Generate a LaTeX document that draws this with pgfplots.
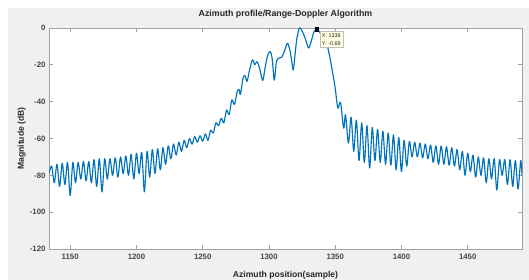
\documentclass[border=0pt]{standalone}
\usepackage{pgfplots}
\pgfplotsset{compat=1.18}
\usepackage{fontspec}
\setmainfont{Liberation Sans}
\definecolor{figgrey}{HTML}{F0F0F0}
\definecolor{axgrey}{HTML}{A0A0A0}
\definecolor{txt}{HTML}{262626}
\definecolor{mblue}{HTML}{0072BD}
\definecolor{tipfill}{HTML}{FFFFE1}
\pgfplotstableread{
x y
1134 -79
1136 -75
1138 -84
1140 -74
1142 -86
1144 -73.5
1146 -85
1148 -73
1150 -91
1152 -73
1154 -84
1156 -73
1158 -82
1160 -72.5
1162 -83
1164 -72.5
1166 -84
1168 -71.5
1170 -86
1172 -71
1174 -89
1176 -71
1178 -82
1180 -71
1182 -80
1184 -70.5
1186 -81
1188 -70
1190 -79
1192 -69.5
1194 -80
1196 -68.5
1198 -82
1200 -68
1202 -79
1204 -67.5
1206 -89
1208 -67
1210 -81
1212 -66
1214 -79
1216 -65.5
1218 -77
1220 -65
1222 -74
1224 -64
1226 -71
1228 -63
1230 -69
1232 -62
1234 -67
1236 -61
1238 -65
1240 -60
1242 -63
1244 -59
1246 -62
1248 -58.5
1250 -61.5
1252 -57.5
1254 -61
1256 -55.5
1258 -57
1260 -51.5
1262 -53
1264 -49
1266 -51.5
1268 -44.5
1270 -47
1272 -39
1274 -41.5
1276 -34.5
1277.5 -33.5
1278.5 -36
1280.5 -27
1282 -26
1283.5 -29
1285 -24
1287.5 -17.3
1289.3 -20
1291 -18.3
1293 -22
1295.3 -28.5
1297 -22
1299 -15
1301 -12.8
1302.5 -17
1304 -28.3
1305.5 -19
1307 -16.5
1309.5 -16
1311.5 -13
1313.8 -8.3
1315.5 -11
1317 -17
1318.3 -22.8
1319.5 -16
1321 -6
1323 0
1324.5 -1
1326.5 -4
1328 -7
1330 -10.9
1332 -7
1334 -2
1336 -0.69
1338 -2
1340 -4
1342 -6
1344 -9.5
1346 -16
1348 -24
1350 -32.6
1352 -43.5
1354 -40.4
1356.4 -54.3
1357.8 -47.1
1360 -62.5
1362 -48.4
1364 -67
1366 -50
1368 -72
1370 -51.5
1372 -73
1374 -53
1376 -76
1378 -54
1380 -72
1382 -55
1384 -73
1386 -56
1388 -74
1390 -57
1392 -74.5
1394 -58
1396 -77
1398 -59.5
1400 -78
1402 -61
1404 -75
1406 -61.5
1408 -70
1410 -62
1412 -70
1414 -62.5
1416 -70.5
1418 -63
1420 -71
1422 -63.5
1424 -73
1426 -64
1428 -74
1430 -64
1432 -74
1434 -64.5
1436 -74.5
1438 -65
1440 -75
1442 -66
1444 -77
1446 -67
1448 -80
1450 -68
1452 -78
1454 -69
1456 -81
1458 -70
1460 -80
1462 -70.5
1464 -84
1466 -71
1468 -82
1470 -71
1472 -88
1474 -71.5
1476 -80
1478 -71.5
1480 -85
1482 -71.5
1484 -86
1486 -72
1488 -87.5
1490 -72
1491 -80
}\profile
\begin{document}
\begin{tikzpicture}
\useasboundingbox (0,0) rectangle (529pt,280pt);
\fill[figgrey] (8pt,0) rectangle (529pt,272pt);
\begin{axis}[
  at={(49pt,31pt)}, anchor=south west,
  scale only axis, width=473pt, height=221pt,
  xmin=1134, xmax=1491, ymin=-120, ymax=0,
  axis background/.style={fill=white},
  axis line style={draw=axgrey, line width=0.9pt},
  tick style={draw=axgrey, line width=0.7pt},
  major tick length=4pt,
  xtick={1150,1200,1250,1300,1350,1400,1450},
  xticklabels={1150,1200,1250,1300,1350,1400,1450},
  ytick={-120,-100,-80,-60,-40,-20,0},
  yticklabels={-120,-100,-80,-60,-40,-20,0},
  ticklabel style={font=\fontsize{7.8}{9}\selectfont\bfseries, text=txt!85},
  xticklabel style={yshift=-2pt},
  title={Azimuth profile/Range-Doppler Algorithm},
  title style={font=\fontsize{8.8}{10}\selectfont\bfseries, text=txt, at={(axis description cs:0.5,1.035)}, anchor=center},
  xlabel={Azimuth position(sample)},
  xlabel style={font=\fontsize{8.6}{10}\selectfont\bfseries, text=txt, at={(axis description cs:0.5,-0.118)}, anchor=center},
  ylabel={Magnitude (dB)},
  ylabel style={font=\fontsize{8.6}{10}\selectfont\bfseries, text=txt, at={(axis description cs:-0.058,0.5)}, anchor=center},
  clip=true,
]
\addplot[mblue, line width=1.15pt, line join=round, smooth, tension=0.5] table[x=x,y=y] {\profile};
\addplot[only marks, mark=square*, mark size=1.8pt, black] coordinates {(1336,-0.69)};
\node[anchor=north west, draw=gray!50, fill=tipfill, inner sep=2.2pt, align=left,
  font=\fontsize{5.4}{7.7}\selectfont, text=txt] at (axis cs:1338.2,-1.9) {X: 1336\\Y: -0.69};
\end{axis}
\end{tikzpicture}
\end{document}
